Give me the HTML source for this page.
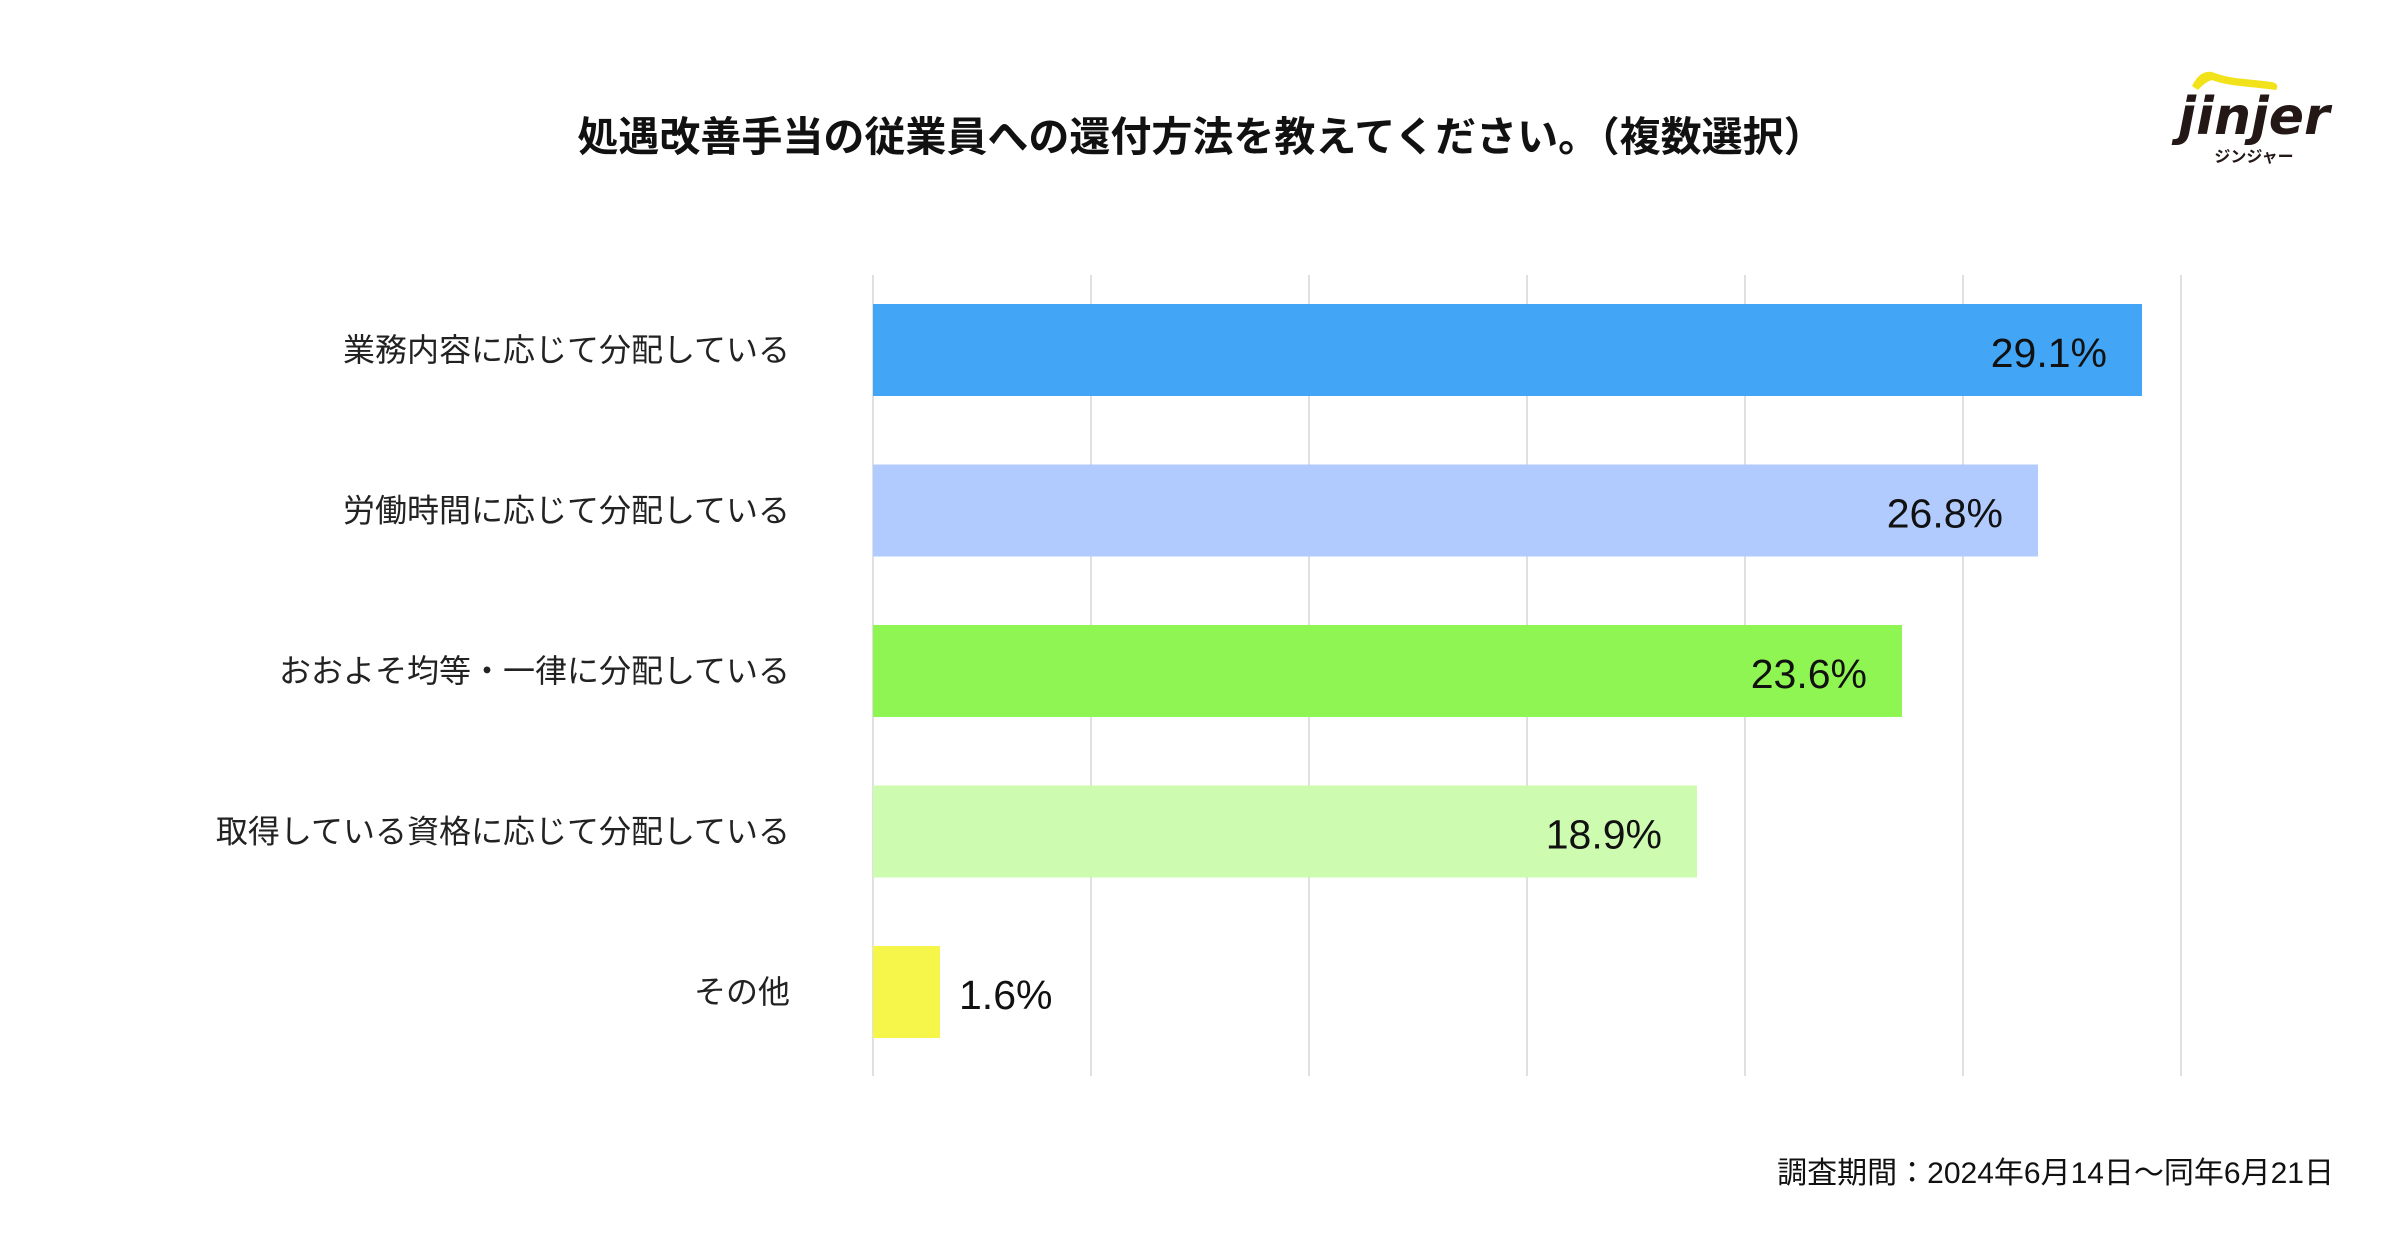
<!DOCTYPE html>
<html><head><meta charset="utf-8"><style>
html,body{margin:0;padding:0;background:#fff;}
svg{display:block}
</style></head><body>
<svg width="2400" height="1260" viewBox="0 0 2400 1260" xmlns="http://www.w3.org/2000/svg">
<rect width="2400" height="1260" fill="#fff"/>
<text x="1201" y="151" text-anchor="middle" font-family="'Liberation Sans','Noto Sans CJK JP',sans-serif" font-weight="bold" font-size="41" fill="#111">処遇改善手当の従業員への還付方法を教えてください。（複数選択）</text>
<g stroke="#e0e0e0" stroke-width="2">
<line x1="873" y1="275" x2="873" y2="1076"/>
<line x1="1091" y1="275" x2="1091" y2="1076"/>
<line x1="1309" y1="275" x2="1309" y2="1076"/>
<line x1="1527" y1="275" x2="1527" y2="1076"/>
<line x1="1745" y1="275" x2="1745" y2="1076"/>
<line x1="1963" y1="275" x2="1963" y2="1076"/>
<line x1="2181" y1="275" x2="2181" y2="1076"/>
</g>
<rect x="873" y="304" width="1269" height="92" fill="#42a5f5"/>
<rect x="873" y="464.5" width="1165" height="92" fill="#b2cbff"/>
<rect x="873" y="625" width="1029" height="92" fill="#8ff552"/>
<rect x="873" y="785.5" width="824" height="92" fill="#cdfbb0"/>
<rect x="873" y="946" width="67" height="92" fill="#f5f54a"/>
<g font-family="'Liberation Sans','Noto Sans CJK JP',sans-serif" font-size="41" fill="#111">
<text x="2107" y="367" text-anchor="end">29.1%</text>
<text x="2003" y="527.5" text-anchor="end">26.8%</text>
<text x="1867" y="688" text-anchor="end">23.6%</text>
<text x="1662" y="848.5" text-anchor="end">18.9%</text>
<text x="959" y="1009">1.6%</text>
</g>
<g font-family="'Liberation Sans','Noto Sans CJK JP',sans-serif" font-size="32" fill="#222" text-anchor="end">
<text x="790" y="361">業務内容に応じて分配している</text>
<text x="790" y="521.5">労働時間に応じて分配している</text>
<text x="790" y="682">おおよそ均等・一律に分配している</text>
<text x="790" y="842.5">取得している資格に応じて分配している</text>
<text x="790" y="1003">その他</text>
</g>
<text x="2334" y="1183" text-anchor="end" font-family="'Liberation Sans','Noto Sans CJK JP',sans-serif" font-size="30" fill="#111">調査期間：2024年6月14日〜同年6月21日</text>
<path d="M2192 86 Q2200 70 2212 72 Q2222 76 2235 78 Q2255 80 2272 82 Q2280 84 2276 90 Q2260 88 2240 86 Q2222 84 2212 80 Q2205 82 2198 90 Z" fill="#f2e21a"/>
<text x="2254" y="134" text-anchor="middle" font-family="'DejaVu Sans','Liberation Sans',sans-serif" font-weight="bold" font-style="italic" font-size="52" fill="#231815">jinjer</text>
<text x="2254" y="162" text-anchor="middle" font-family="'Liberation Sans','Noto Sans CJK JP',sans-serif" font-weight="bold" font-size="16" fill="#231815">ジンジャー</text>
</svg>
</body></html>
